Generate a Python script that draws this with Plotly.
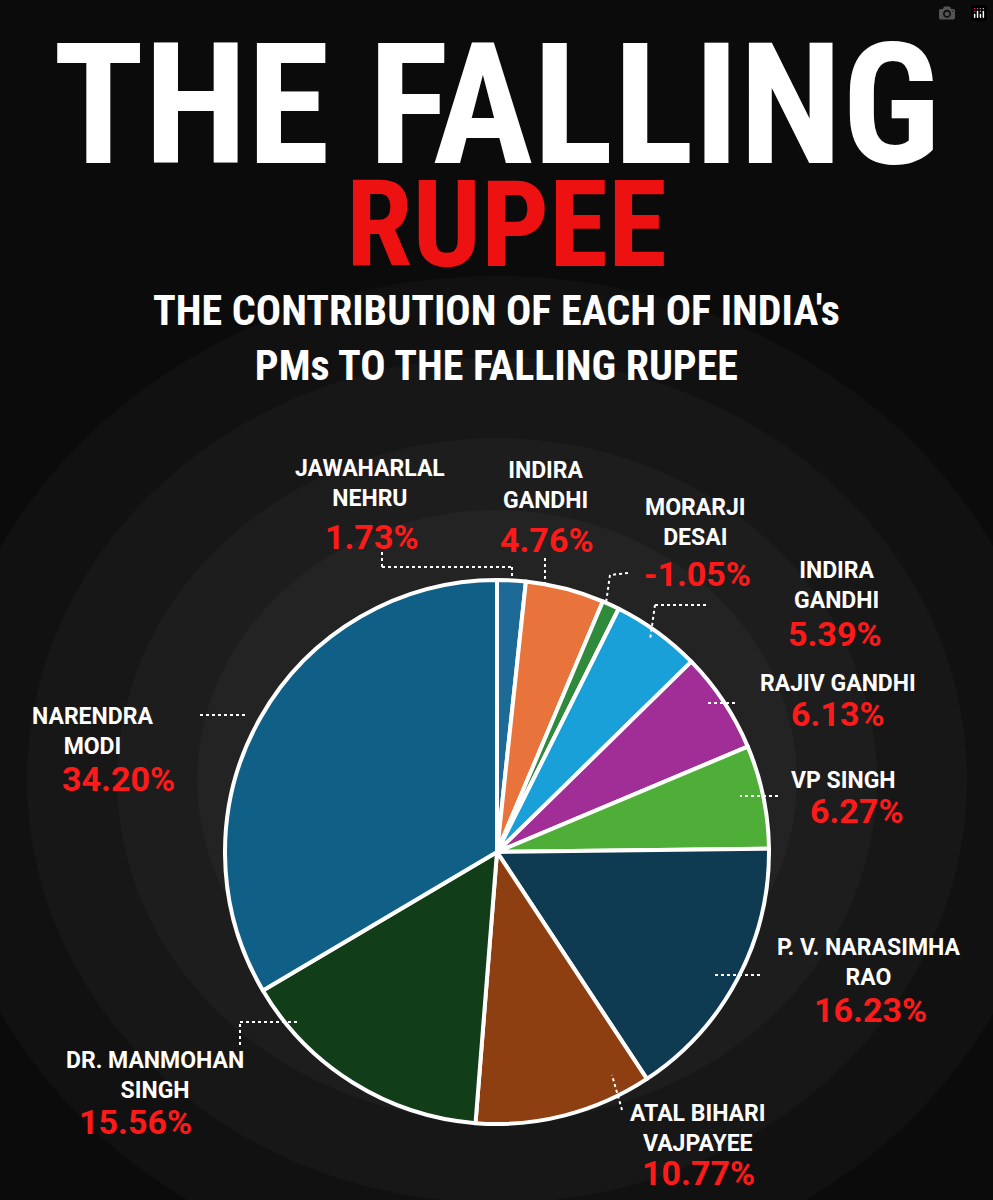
import plotly.graph_objects as go

names = ["JAWAHARLAL NEHRU","INDIRA GANDHI","MORARJI DESAI","INDIRA GANDHI (2)","RAJIV GANDHI",
         "VP SINGH","P. V. NARASIMHA RAO","ATAL BIHARI VAJPAYEE","DR. MANMOHAN SINGH","NARENDRA MODI"]
values = [1.73, 4.76, 1.05, 5.39, 6.13, 6.27, 16.23, 10.77, 15.56, 34.20]
pct_labels = ["1.73%","4.76%","-1.05%","5.39%","6.13%","6.27%","16.23%","10.77%","15.56%","34.20%"]
colors = ["#1d6a96","#e8743b","#2f8a3c","#1aa0d8","#a02e96","#4fae37","#0f3b52","#8e3f12","#113d18","#0f5f86"]

W, H = 993, 1200
def px(x): return x / W
def py(y): return 1 - y / H

label_pos = [
    ("JAWAHARLAL<br>NEHRU", 370, 483, 372, 537, [(382,552),(382,567),(512,567),(512,585)]),
    ("INDIRA<br>GANDHI", 545, 485, 547, 540, [(545,558),(545,585)]),
    ("MORARJI<br>DESAI", 695, 522, 697, 574, [(628,573),(610,575),(606,603)]),
    ("INDIRA<br>GANDHI", 836, 585, 835, 634, [(706,605),(655,605),(650,640)]),
    ("RAJIV GANDHI", 838, 683, 838, 714, [(735,703),(705,703)]),
    ("VP SINGH", 843, 780, 857, 811, [(778,796),(740,796)]),
    ("P. V. NARASIMHA<br>RAO", 868, 962, 870, 1010, [(760,975),(715,975)]),
    ("ATAL BIHARI<br>VAJPAYEE", 698, 1128, 698, 1173, [(622,1110),(612,1075)]),
    ("DR. MANMOHAN<br>SINGH", 155, 1075, 135, 1122, [(240,1045),(240,1022),(300,1022)]),
    ("NARENDRA<br>MODI", 92, 731, 118, 779, [(200,715),(247,715)]),
]

fig = go.Figure()
cx, cy, r = 497, 852, 272
fig.add_trace(go.Pie(
    values=values, labels=names, sort=False, direction="clockwise", rotation=0,
    marker=dict(colors=colors, line=dict(color="white", width=4)),
    textinfo="none", hoverinfo="label+value", showlegend=False,
    domain=dict(x=[px(cx-r), px(cx+r)], y=[py(cy+r), py(cy-r)]),
))

shapes = []
for rad in [560, 470, 380, 300]:
    shapes.append(dict(type="circle", xref="paper", yref="paper", layer="below",
                       x0=px(497-rad), x1=px(497+rad), y0=py(780+rad*0.9), y1=py(780-rad*0.9),
                       fillcolor="rgba(255,255,255,0.028)", line=dict(width=0)))
annotations = []
for (nm, nx, ny, pxx, pyy, path), pct in zip(label_pos, pct_labels):
    annotations.append(dict(x=px(nx), y=py(ny), xref="paper", yref="paper", text=nm, showarrow=False,
                            font=dict(family="Roboto, Liberation Sans", size=23, color="white", weight="bold"),
                            align="center", xanchor="center", yanchor="middle"))
    annotations.append(dict(x=px(pxx), y=py(pyy), xref="paper", yref="paper", text=pct, showarrow=False,
                            font=dict(family="Roboto, Liberation Sans", size=34, color="#ff1a1a", weight="bold"),
                            xanchor="center", yanchor="middle"))
    for (x0, y0), (x1, y1) in zip(path[:-1], path[1:]):
        shapes.append(dict(type="line", xref="paper", yref="paper", x0=px(x0), y0=py(y0), x1=px(x1), y1=py(y1),
                           line=dict(color="white", width=2, dash="dot")))

annotations += [
    dict(x=0.5, y=py(105), xref="paper", yref="paper", text="THE FALLING", showarrow=False,
         font=dict(family="Liberation Sans Narrow, Roboto Condensed, Roboto", size=168, color="white", weight="bold"),
         xanchor="center", yanchor="middle"),
    dict(x=0.51, y=py(225), xref="paper", yref="paper", text="RUPEE", showarrow=False,
         font=dict(family="Liberation Sans Narrow, Roboto Condensed, Roboto", size=120, color="#ee1111", weight="bold"),
         xanchor="center", yanchor="middle"),
    dict(x=0.5, y=py(338), xref="paper", yref="paper",
         text="THE CONTRIBUTION OF EACH OF INDIA's<br>PMs TO THE FALLING RUPEE", showarrow=False,
         font=dict(family="Liberation Sans Narrow, Roboto Condensed, Roboto", size=42, color="white", weight="bold"),
         xanchor="center", yanchor="middle"),
]

fig.update_layout(width=W, height=H, margin=dict(l=0, r=0, t=0, b=0),
                  paper_bgcolor="#0b0b0b", plot_bgcolor="#0b0b0b",
                  shapes=shapes, annotations=annotations)
fig.write_html("out.html", post_script="document.body.style.margin='0';document.body.style.background='#0b0b0b';")
